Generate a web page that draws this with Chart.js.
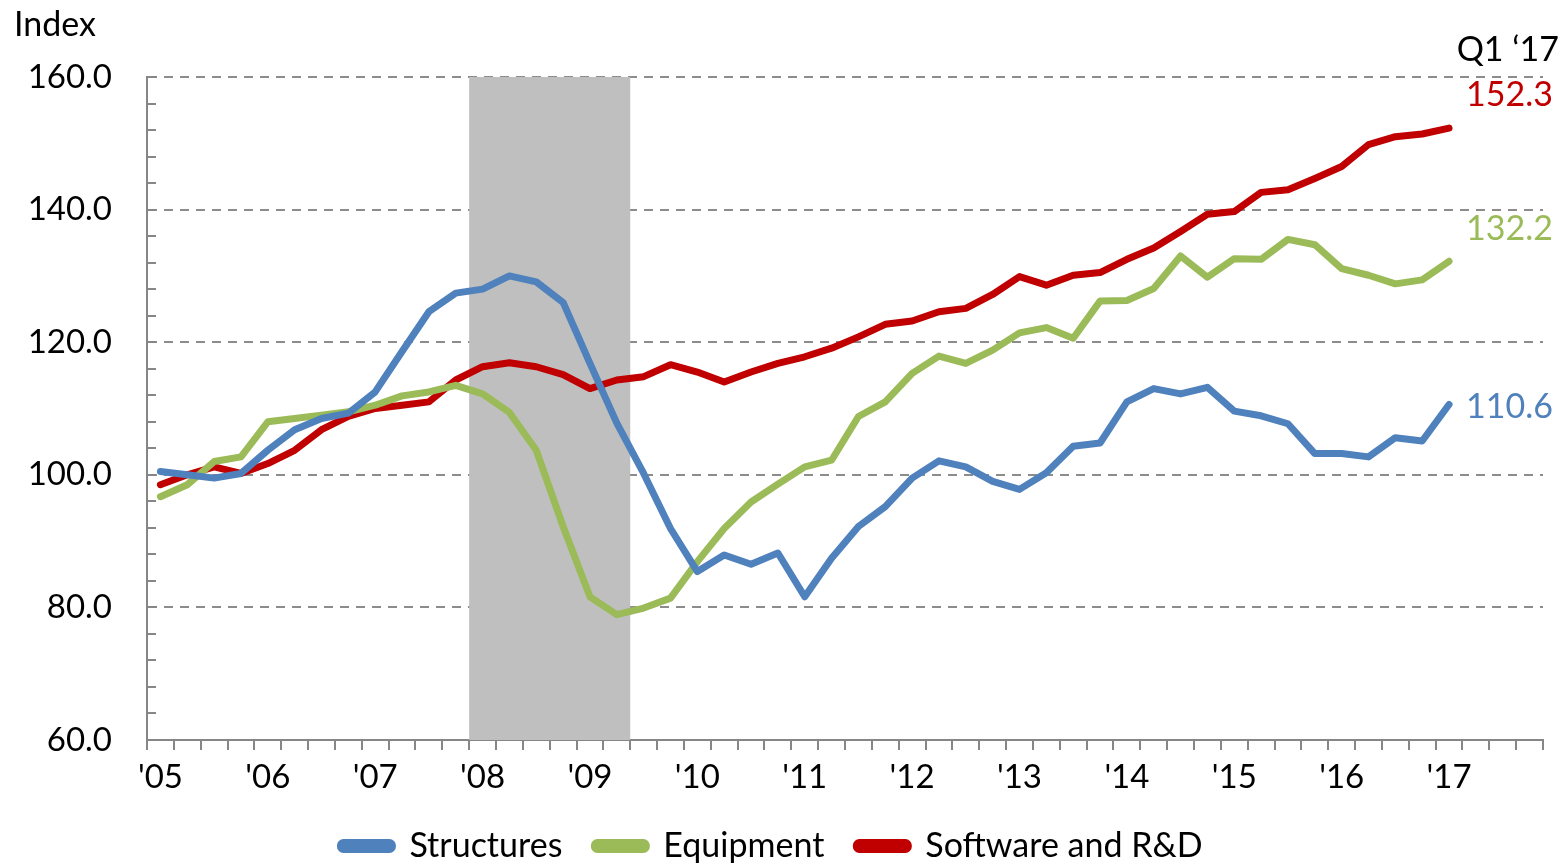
<!DOCTYPE html>
<html>
<head>
<meta charset="utf-8">
<script src="https://cdn.jsdelivr.net/npm/chart.js@4.4.0/dist/chart.umd.min.js"></script>
<style>
  html, body { margin: 0; padding: 0; background: #fff; }
  #wrap { width: 1562px; height: 864px; position: relative; }
</style>
</head>
<body>
<div id="wrap"><canvas id="myChart" width="1562" height="864"></canvas></div>
<script>
// años del eje x (trimestral, Q1 2005 - Q4 2017)
const years = ['05','06','07','08','09','10','11','12','13','14','15','16','17'];
const quarters = ['Q1','Q2','Q3','Q4'];

// series, Q1 2005 .. Q1 2017
const structures = [100.5,100.0,99.5,100.2,103.7,106.8,108.5,109.3,112.5,118.6,124.6,127.4,
  128.0,130.0,129.1,126.0,116.8,107.8,100.2,91.9,85.4,87.9,86.5,88.2,
  81.6,87.4,92.2,95.2,99.5,102.1,101.2,99.0,97.8,100.3,104.3,104.8,
  111.0,113.0,112.2,113.2,109.6,108.9,107.7,103.2,103.2,102.7,105.6,105.1,110.6];
const equipment = [96.7,98.5,102.0,102.7,108.0,108.5,109.0,109.5,110.5,111.9,112.5,113.5,
  112.2,109.4,103.7,92.2,81.6,78.9,79.9,81.4,86.9,91.9,95.9,98.6,
  101.2,102.2,108.8,111.0,115.3,117.9,116.8,118.8,121.4,122.2,120.6,126.2,
  126.3,128.1,133.0,129.8,132.6,132.5,135.5,134.7,131.1,130.1,128.8,129.4,132.2];
const software = [98.5,100.0,101.2,100.2,101.7,103.7,106.8,108.8,110.0,110.5,111.0,114.3,
  116.3,116.9,116.3,115.1,113.0,114.3,114.8,116.6,115.5,114.0,115.5,116.8,
  117.8,119.1,120.8,122.7,123.2,124.6,125.1,127.2,129.9,128.6,130.1,130.5,
  132.5,134.2,136.7,139.3,139.7,142.6,143.0,144.7,146.5,149.8,151.0,151.4,152.3];

const seriesNames = ['Structures','Equipment','Software and R&D'];
const seriesColors = ['#4F81BD','#9BBB59','#C00000'];
// recesión: Q1 2008 .. Q2 2009 (indices de categoría)
const recession = [12, 17];
const yTicksMin = 60, yTicksMax = 160, yMinorStep = 4, yLabelStep = 20;

let labels = [];
years.forEach(y => quarters.forEach(q => labels.push(q + " '" + y)));

const FONT = 'Lato, "Open Sans", "Liberation Sans", sans-serif';
const gray = '#868686';

const shadePlugin = {
  id: 'shade',
  beforeDatasetsDraw(chart) {
    const x = chart.scales.x, a = chart.chartArea, ctx = chart.ctx;
    const half = (x.getPixelForValue(1) - x.getPixelForValue(0)) / 2;
    const x0 = x.getPixelForValue(recession[0]) - half;
    const x1 = x.getPixelForValue(recession[1]) + half;
    ctx.save();
    ctx.fillStyle = '#BFBFBF';
    ctx.fillRect(x0, a.top, x1 - x0, a.bottom - a.top);
    ctx.restore();
  },
  afterDraw(chart) {
    const ctx = chart.ctx, y = chart.scales.y, a = chart.chartArea;
    ctx.save();
    // ticks menores hacia adentro
    ctx.strokeStyle = gray;
    ctx.lineWidth = 2;
    for (let v = yTicksMin; v <= yTicksMax; v += yMinorStep) {
      const py = Math.round(y.getPixelForValue(v)) ;
      ctx.beginPath();
      ctx.moveTo(a.left, py);
      ctx.lineTo(a.left + 9, py);
      ctx.stroke();
    }
    ctx.font = '34px ' + FONT;
    ctx.fillStyle = '#000';
    ctx.textBaseline = 'middle';
    ctx.textAlign = 'left';
    ctx.fillText('Index', 14, 25);
    ctx.textAlign = 'right';
    ctx.fillText('Q1 \u201817', 1559, 50);
    const last = [structures, equipment, software];
    const offs = [3, -32, -33];
    last.forEach((arr, i) => {
      const v = arr[arr.length - 1];
      ctx.fillStyle = seriesColors[i];
      ctx.fillText(v.toFixed(1), 1553, y.getPixelForValue(v) + offs[i]);
    });
    ctx.restore();
  }
};

const mkDs = (i, data) => ({
  label: seriesNames[i],
  data: data,
  borderColor: seriesColors[i],
  backgroundColor: seriesColors[i],
  borderWidth: 7,
  pointRadius: 0,
  tension: 0,
  borderJoinStyle: 'round',
  borderCapStyle: 'round'
});

const ctx = document.getElementById('myChart').getContext('2d');
const myChart = new Chart(ctx, {
  type: 'line',
  data: {
    labels: labels,
    datasets: [mkDs(0, structures), mkDs(1, equipment), mkDs(2, software)]
  },
  options: {
    responsive: false,
    animation: false,
    layout: { padding: { top: 77, right: 19, left: 0, bottom: -9 } },
    scales: {
      x: {
        type: 'category',
        offset: true,
        grid: { drawOnChartArea: false, drawTicks: true, tickLength: 10, offset: true,
                color: gray, tickColor: gray, tickWidth: 2, lineWidth: 2 },
        border: { display: true, color: gray, width: 2 },
        ticks: {
          autoSkip: false, maxRotation: 0, minRotation: 0, padding: 8,
          color: '#000', font: { size: 33, family: FONT },
          callback: (v, i) => i % 4 === 0 ? "'" + years[i / 4] : ''
        },
        afterFit: s => { s.height = 57; }
      },
      y: {
        min: yTicksMin, max: yTicksMax,
        grid: {
          drawTicks: false, lineWidth: 2,
          color: c => (c.tick.value % yLabelStep === 0 && c.tick.value > yTicksMin) ? '#8C8C8C' : 'rgba(0,0,0,0)'
        },
        border: { display: true, color: gray, width: 2, dash: [9, 7] },
        ticks: {
          stepSize: yMinorStep, autoSkip: false, maxTicksLimit: 40, padding: 35,
          color: '#000', font: { size: 33, family: FONT },
          callback: v => v % yLabelStep === 0 ? v.toFixed(1) : ''
        },
        afterFit: s => { s.width = 147; }
      }
    },
    plugins: {
      legend: {
        position: 'bottom',
        labels: {
          boxWidth: 52, boxHeight: 7, padding: 32, color: '#000',
          useBorderRadius: true, borderRadius: 3,
          font: { size: 34, family: FONT }
        }
      },
      tooltip: { enabled: false },
      title: { display: false }
    }
  },
  plugins: [shadePlugin]
});
</script>
</body>
</html>
